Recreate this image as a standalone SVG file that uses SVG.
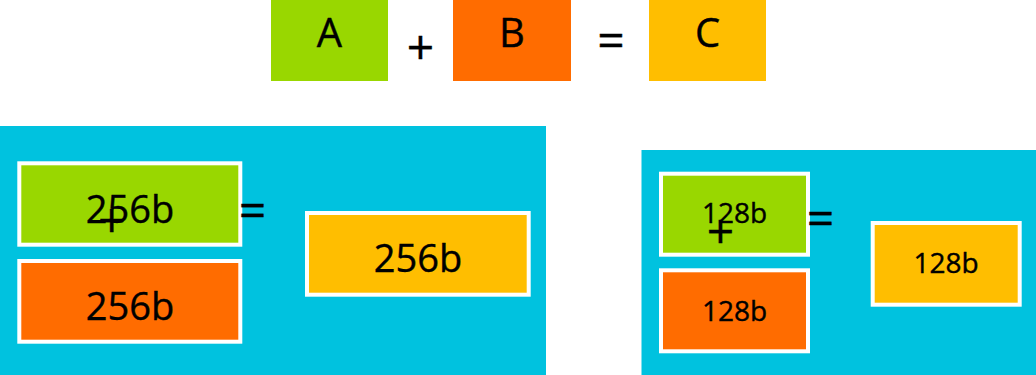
<svg xmlns="http://www.w3.org/2000/svg" width="1036" height="375" viewBox="0 0 1036 375">
  <style>
    text { font-family: "Open Sans", "Noto Sans", "Liberation Sans", sans-serif; fill: #000; stroke: #000; stroke-width: 0.4; text-anchor: middle; }
    .green { fill: #99D700; }
    .orange { fill: #FF6C00; }
    .yellow { fill: #FFBE00; }
    .panel { fill: #00C2DF; }
    .framed { stroke: #FFFFFF; stroke-width: 4; }
    .big { font-size: 40px; }
    .mid { font-size: 38px; }
    .small { font-size: 28px; }
    .op { font-size: 48px; }
  </style>

  <rect width="1036" height="375" fill="#FFFFFF"/>

  <!-- legend row: A + B = C -->
  <g id="legend-a">
    <rect class="green" x="271" y="0" width="117" height="81"/>
    <text class="big" x="329.5" y="46.7">A</text>
  </g>
  <g id="legend-b">
    <rect class="orange" x="453" y="0" width="118" height="81"/>
    <text class="big" x="512" y="46.7">B</text>
  </g>
  <g id="legend-c">
    <rect class="yellow" x="649" y="0" width="117" height="81"/>
    <text class="big" x="707.5" y="46.7">C</text>
  </g>

  <!-- 256-bit panel -->
  <g id="panel-256">
    <rect class="panel" x="0" y="126" width="546" height="249"/>
  </g>
  <g id="a-256">
    <rect class="green framed" x="19.3" y="163.3" width="221" height="81.4"/>
    <text class="mid" x="130" y="223">256b</text>
  </g>
  <g id="b-256">
    <rect class="orange framed" x="19.3" y="261" width="221" height="80.7"/>
    <text class="mid" x="130" y="320">256b</text>
  </g>
  <g id="c-256">
    <rect class="yellow framed" x="307" y="213" width="221.7" height="81.7"/>
    <text class="mid" x="418" y="271.7">256b</text>
  </g>

  <!-- 128-bit panel -->
  <g id="panel-128">
    <rect class="panel" x="641.5" y="150" width="394.5" height="225"/>
  </g>
  <g id="a-128">
    <rect class="green framed" x="661" y="173.7" width="147" height="81"/>
    <text class="small" x="734.5" y="223.3">128b</text>
  </g>
  <g id="b-128">
    <rect class="orange framed" x="661" y="270.3" width="147" height="81"/>
    <text class="small" x="734.5" y="320.5">128b</text>
  </g>
  <g id="c-128">
    <rect class="yellow framed" x="872.7" y="223" width="147" height="81.7"/>
    <text class="small" x="946" y="272.7">128b</text>
  </g>

  <!-- operator signs -->
  <g id="connectors">
    <text class="op" x="420.5" y="64.1">+</text>
    <text class="op" x="611" y="56.5">=</text>
    <text class="op" x="111.7" y="236.8">+</text>
    <text class="op" x="252.5" y="226.5">=</text>
    <text class="op" x="720.5" y="247.8">+</text>
    <text class="op" x="820.5" y="234.8">=</text>
  </g>
</svg>
